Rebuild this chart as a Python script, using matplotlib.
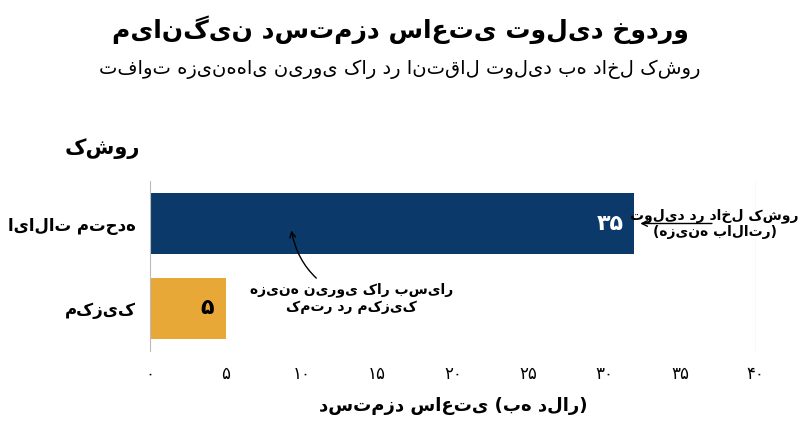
import matplotlib
matplotlib.use("Agg")
import matplotlib.pyplot as plt

categories = ["ایالات متحده", "مکزیک"]
values = [32, 5]
value_labels = ["۳۵", "۵"]
tick_vals = [0, 5, 10, 15, 20, 25, 30, 35, 40]
tick_labels = ["۰", "۵", "۱۰", "۱۵", "۲۰", "۲۵", "۳۰", "۳۵", "۴۰"]
colors = ["#0b3a6a", "#e8a838"]

plt.rcParams['font.family'] = ['DejaVu Sans']
fig = plt.figure(figsize=(8, 4.47), dpi=100)
ax = fig.add_axes([0.1875, 0.215, 0.757, 0.38])
y = [1, 0]
ax.barh(y, values, color=colors, height=0.72)
ax.set_xlim(0, 40)
ax.set_ylim(-0.5, 1.5)
ax.set_yticks(y)
ax.set_yticklabels(categories, fontsize=12, fontweight='bold')
ax.set_xticks(tick_vals)
ax.set_xticklabels(tick_labels, fontsize=12)
for s in ["top", "right", "bottom"]:
    ax.spines[s].set_visible(False)
ax.spines["left"].set_color("#bbbbbb")
ax.tick_params(length=0, pad=10)
ax.axvline(40, color="#dddddd", lw=1)
ax.text(values[0] - 0.7, y[0], value_labels[0], color="white", fontsize=16,
        fontweight='bold', ha='right', va='center')
ax.text(values[1] - 0.8, y[1], value_labels[1], color="black", fontsize=16,
        fontweight='bold', ha='right', va='center')
ax.annotate("تولید در داخل کشور\n(هزینه بالاتر)", xy=(values[0] + 0.2, y[0]),
            xytext=(37.3, y[0]), fontsize=10, fontweight='bold', ha='center',
            va='center', arrowprops=dict(arrowstyle='->', color='black'),
            annotation_clip=False)
ax.annotate("هزینه نیروی کار بسیار\nکمتر در مکزیک", xy=(9.3, 0.95),
            xytext=(13.3, 0.12), fontsize=10, fontweight='bold', ha='center',
            va='center', arrowprops=dict(arrowstyle='->', color='black',
                                         connectionstyle='arc3,rad=-0.3'))
ax.set_xlabel("دستمزد ساعتی (به دلار)", fontsize=13, fontweight='bold', labelpad=10)
fig.text(0.5, 0.915, "میانگین دستمزد ساعتی تولید خودرو", ha='center',
         fontsize=18, fontweight='bold')
fig.text(0.5, 0.835, "تفاوت هزینه‌های نیروی کار در انتقال تولید به داخل کشور",
         ha='center', fontsize=14)
fig.text(0.175, 0.655, "کشور", ha='right', fontsize=15, fontweight='bold')
fig.savefig("out.png", dpi=100, facecolor='white')
